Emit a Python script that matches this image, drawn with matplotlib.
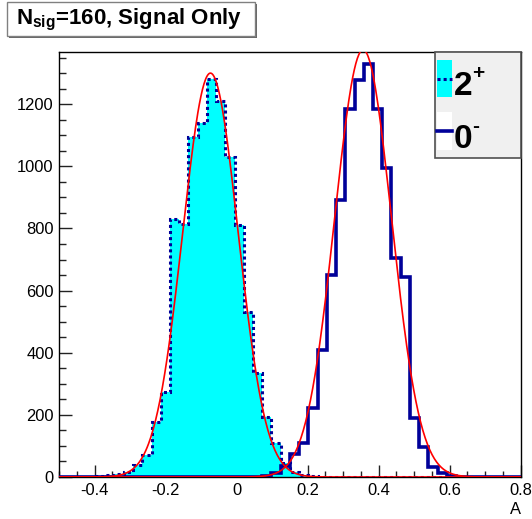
import numpy as np
import matplotlib
matplotlib.use("Agg")
import matplotlib.pyplot as plt
from matplotlib.patches import Rectangle
from matplotlib.lines import Line2D
from matplotlib.ticker import MultipleLocator

# ---------------- data ----------------
x_min, x_max, n_bins = -0.5, 0.8, 50
counts_2plus = [0, 0, 0, 0, 2, 6, 9, 17, 39, 71,
                178, 275, 832, 814, 1093, 1141, 1281, 1210, 1031, 811,
                531, 334, 192, 110, 45, 16, 6, 3, 1, 0,
                0, 0, 0, 0, 0, 0, 0, 0, 0, 0,
                0, 0, 0, 0, 0, 0, 0, 0, 0, 0]
counts_0minus = [0, 0, 0, 0, 0, 0, 0, 0, 0, 0,
                 0, 0, 0, 0, 0, 0, 0, 0, 0, 0,
                 0, 1, 4, 12, 36, 74, 108, 223, 409, 650,
                 891, 1186, 1277, 1328, 1186, 993, 704, 644, 189, 98,
                 33, 12, 3, 1, 0, 0, 0, 0, 0, 0]
fit_2plus_amp, fit_2plus_mean, fit_2plus_sigma = 1300.0, -0.074, 0.078
fit_0minus_amp, fit_0minus_mean, fit_0minus_sigma = 1375.0, 0.356, 0.080
y_max = 1367
x_ticks = [-0.4, -0.2, 0.0, 0.2, 0.4, 0.6, 0.8]
x_tick_labels = ["-0.4", "-0.2", "0", "0.2", "0.4", "0.6", "0.8"]
y_ticks = [0, 200, 400, 600, 800, 1000, 1200]
y_tick_labels = ["0", "200", "400", "600", "800", "1000", "1200"]
title_text = r"$\mathrm{N_{sig}}$=160, Signal Only"
legend_main = ["2", "0"]
legend_sup = ["+", "-"]
x_label = "A"

# ---------------- style ----------------
plt.rcParams['font.family'] = ['Liberation Sans', 'DejaVu Sans']
plt.rcParams['mathtext.fontset'] = 'custom'
plt.rcParams['mathtext.rm'] = 'Liberation Sans:bold'
plt.rcParams['mathtext.it'] = 'Liberation Sans:bold'
plt.rcParams['mathtext.bf'] = 'Liberation Sans:bold'

NAVY = '#000099'
CYAN = '#00ffff'
RED = '#ff0000'

W, H = 532, 519
fig = plt.figure(figsize=(W / 100, H / 100), dpi=100)
fig.patch.set_facecolor('white')

def fx(px):
    return px / W

def fy(py):
    return 1 - py / H

ax_l, ax_r, ax_t, ax_b = 59.2, 520.7, 52.3, 477.0
ax = fig.add_axes([fx(ax_l), fy(ax_b), fx(ax_r) - fx(ax_l), fy(ax_t) - fy(ax_b)])

edges = np.linspace(x_min, x_max, n_bins + 1)
h2 = np.array(counts_2plus, dtype=float)
h0 = np.array(counts_0minus, dtype=float)

ax.stairs(h2, edges, fill=True, color=CYAN, lw=0, zorder=2)
ax.stairs(h2, edges, color=NAVY, lw=2.2, ls=(0, (1, 1)), zorder=3)
ax.stairs(h0, edges, color=NAVY, lw=2.6, zorder=4)

xf = np.linspace(x_min, x_max, 600)
g2 = fit_2plus_amp * np.exp(-0.5 * ((xf - fit_2plus_mean) / fit_2plus_sigma) ** 2)
g0 = fit_0minus_amp * np.exp(-0.5 * ((xf - fit_0minus_mean) / fit_0minus_sigma) ** 2)
ax.plot(xf, g2, color=RED, lw=1.2, zorder=5)
ax.plot(xf, g0, color=RED, lw=1.2, zorder=5)

ax.set_xlim(x_min, x_max)
ax.set_ylim(0, y_max)

ax.set_xticks(x_ticks)
ax.set_xticklabels(x_tick_labels)
ax.set_yticks(y_ticks)
ax.set_yticklabels(y_tick_labels)
ax.xaxis.set_minor_locator(MultipleLocator(0.05))
ax.yaxis.set_minor_locator(MultipleLocator(50))
ax.tick_params(axis='both', which='both', direction='in', top=False, right=False,
               colors='#222222', labelcolor='black', labelsize=11.9, width=1)
ax.tick_params(axis='x', which='major', length=8.6, pad=4.5)
ax.tick_params(axis='x', which='minor', length=4.3)
ax.tick_params(axis='y', which='major', length=9.4, pad=4)
ax.tick_params(axis='y', which='minor', length=4.7)
for s in ax.spines.values():
    s.set_linewidth(1)
    s.set_color('black')

# x axis title
fig.text(fx(521), fy(509), x_label, ha='right', va='center', fontsize=11.9)

# ---------------- title box ----------------
fig.patches.append(Rectangle((fx(8.5), fy(37.5)), fx(255) - fx(7), fy(2) - fy(36),
                             transform=fig.transFigure, facecolor='#666666',
                             edgecolor='none', zorder=9))
fig.patches.append(Rectangle((fx(7), fy(36)), fx(255) - fx(7), fy(2) - fy(36),
                             transform=fig.transFigure, facecolor='white',
                             edgecolor='#808080', lw=1, zorder=10))
fig.text(fx(16.5), fy(24), title_text, ha='left', va='baseline', fontsize=16,
         fontweight='bold', zorder=11)

# ---------------- legend ----------------
leg = Rectangle((fx(435), fy(158)), fx(521) - fx(435), fy(52.3) - fy(158),
                transform=fig.transFigure, facecolor='#f0f0f0',
                edgecolor='#505050', lw=1.2, zorder=10)
fig.patches.append(leg)
fig.patches.append(Rectangle((fx(437), fy(97)), fx(452) - fx(437), fy(60) - fy(97),
                             transform=fig.transFigure, facecolor=CYAN,
                             edgecolor='none', zorder=11))
fig.lines.append(Line2D([fx(437), fx(452)], [fy(79), fy(79)], transform=fig.transFigure,
                        color=NAVY, lw=2.2, ls=(0, (1, 1)), zorder=12))
fig.patches.append(Rectangle((fx(437), fy(150)), fx(452) - fx(437), fy(112) - fy(150),
                             transform=fig.transFigure, facecolor='white',
                             edgecolor='none', zorder=11))
fig.lines.append(Line2D([fx(437), fx(452)], [fy(131), fy(131)], transform=fig.transFigure,
                        color=NAVY, lw=2.6, zorder=12))
for main, sup, base in zip(legend_main, legend_sup, [95, 148]):
    fig.text(fx(454), fy(base), main, ha='left', va='baseline', fontsize=24,
             fontweight='bold', zorder=13)
    fig.text(fx(472.5), fy(base - 16), sup, ha='left', va='baseline', fontsize=15,
             fontweight='bold', zorder=13)

fig.savefig('out.png', dpi=100, facecolor='white')
